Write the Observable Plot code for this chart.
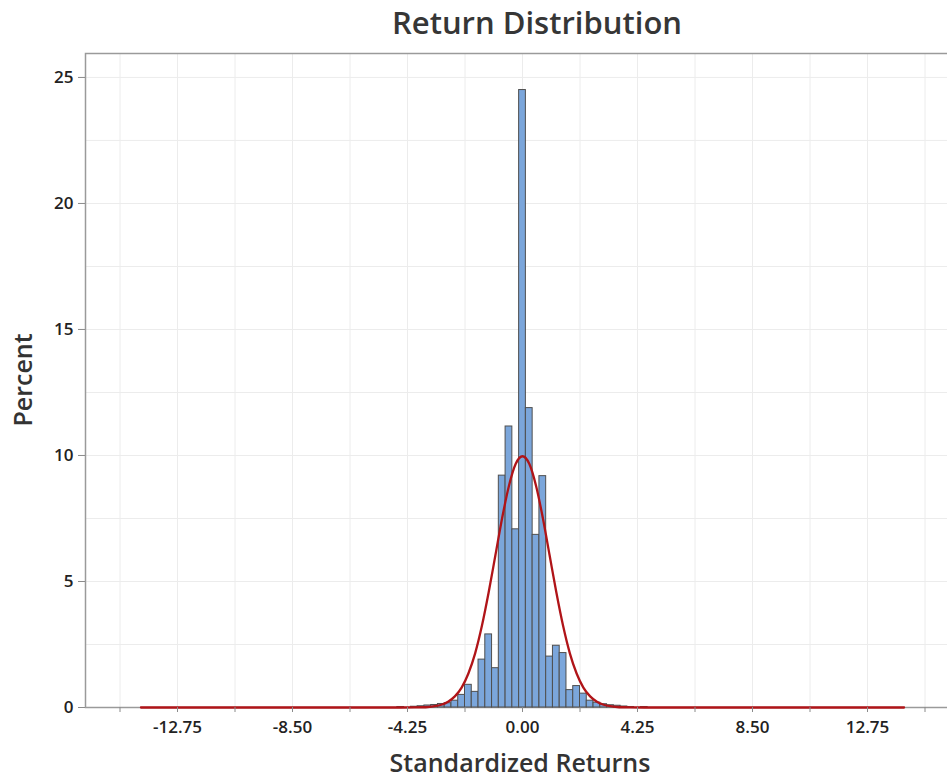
<!DOCTYPE html>
<html>
<head>
<meta charset="utf-8">
<script src="https://cdn.jsdelivr.net/npm/d3@7"></script>
<script src="https://cdn.jsdelivr.net/npm/@observablehq/plot@0.6"></script>
<style>
  html, body { margin: 0; padding: 0; background: #fff; }
  #wrap { position: relative; width: 947px; height: 780px; overflow: hidden; font-family: "Open Sans", sans-serif; }
  #title { position: absolute; top: 1px; left: 537px; transform: translateX(-50%); font-size: 31px; font-weight: 600; color: #363636; white-space: nowrap; }
  #ylab { position: absolute; left: 22px; top: 380px; transform: translate(-50%, -50%) rotate(-90deg); font-size: 25px; font-weight: 600; color: #333; white-space: nowrap; }
  #xlab { position: absolute; left: 520px; top: 748px; height: 28px; line-height: 28px; transform: translateX(-50%); font-size: 25px; font-weight: 600; color: #333; white-space: nowrap; }
</style>
</head>
<body>
<div id="wrap">
  <div id="chart"></div>
  <div id="title">Return Distribution</div>
  <div id="ylab">Percent</div>
  <div id="xlab">Standardized Returns</div>
</div>
<script>
// Histogram bins (bin centers, width 0.25) and percent of observations
const binWidth = 0.25;
const binCenters = [-4.5, -4.0, -3.75, -3.5, -3.25, -3.0, -2.75, -2.5, -2.25, -2.0, -1.75, -1.5, -1.25, -1.0, -0.75, -0.5, -0.25,
  0, 0.25, 0.5, 0.75, 1.0, 1.25, 1.5, 1.75, 2.0, 2.25, 2.5, 2.75, 3.0, 3.25, 3.5, 3.75, 4.0, 4.5];
const binPercents = [0.02, 0.03, 0.05, 0.08, 0.10, 0.14, 0.17, 0.27, 0.50, 0.90, 0.62, 1.90, 2.90, 1.56, 9.20, 11.15, 7.07,
  24.5, 11.88, 6.85, 9.18, 2.02, 2.45, 2.16, 0.69, 0.85, 0.55, 0.27, 0.19, 0.13, 0.09, 0.07, 0.04, 0.02, 0.02];

// Fitted normal curve
const curveX = [-14.1, -4.5, -4.0, -3.75, -3.5, -3.25, -3.0, -2.75, -2.5, -2.25, -2.0, -1.75, -1.5, -1.25, -1.0, -0.75, -0.5, -0.25,
  0, 0.25, 0.5, 0.75, 1.0, 1.25, 1.5, 1.75, 2.0, 2.25, 2.5, 2.75, 3.0, 3.25, 3.5, 3.75, 4.0, 4.5, 14.1];
const curveY = [0, 0, 0.003, 0.009, 0.02, 0.05, 0.11, 0.23, 0.44, 0.79, 1.35, 2.15, 3.24, 4.57, 6.05, 7.53, 8.80, 9.67,
  9.97, 9.67, 8.80, 7.53, 6.05, 4.57, 3.24, 2.15, 1.35, 0.79, 0.44, 0.23, 0.11, 0.05, 0.02, 0.009, 0.003, 0, 0];

// Tick labels / grid
const xMajorTicks = [-12.75, -8.5, -4.25, 0, 4.25, 8.5, 12.75];
const xMinorTicks = [-14.875, -10.625, -6.375, -2.125, 2.125, 6.375, 10.625, 14.875];
const yTicks = [0, 5, 10, 15, 20, 25];
const yGrid = [2.5, 5, 7.5, 10, 12.5, 15, 17.5, 20, 22.5, 25];

const bins = binCenters.map((c, i) => ({lo: c - binWidth / 2, hi: c + binWidth / 2, pct: binPercents[i]}));
const curve = curveX.map((x, i) => ({x, y: curveY[i]}));

const chart = Plot.plot({
  width: 947,
  height: 780,
  marginLeft: 85,
  marginRight: -12,
  marginTop: 53,
  marginBottom: 73,
  x: {domain: [-16.15, 16.15]},
  y: {domain: [0, 25.95]},
  style: {fontFamily: "Open Sans", fontSize: "17px", color: "#222", background: "white", overflow: "hidden"},
  marks: [
    Plot.gridX(xMajorTicks.concat(xMinorTicks), {stroke: "#ececec", strokeOpacity: 1, strokeWidth: 1}),
    Plot.gridY(yGrid, {stroke: "#ececec", strokeOpacity: 1, strokeWidth: 1}),
    Plot.frame({stroke: "#9a9a9a", strokeWidth: 1.5}),
    Plot.rect(bins, {x1: "lo", x2: "hi", y1: 0, y2: "pct", fill: "#7ba6db", stroke: "#4f4f4f", strokeWidth: 1}),
    Plot.line(curve, {x: "x", y: "y", stroke: "#b01418", strokeWidth: 2.3, curve: "monotone-x"}),
    Plot.axisX(xMajorTicks, {tickSize: 5, tickPadding: 8, tickFormat: d => d.toFixed(2), label: null, stroke: "#8a8a8a", fontWeight: 600, fill: "#222"}),
    Plot.axisX(xMinorTicks, {tickSize: 5, tickFormat: () => "", label: null, stroke: "#8a8a8a"}),
    Plot.axisY(yTicks, {tickSize: 7, tickPadding: 5, label: null, stroke: "#8a8a8a", fontWeight: 600, fill: "#222"})
  ]
});
document.getElementById("chart").appendChild(chart);
</script>
</body>
</html>
